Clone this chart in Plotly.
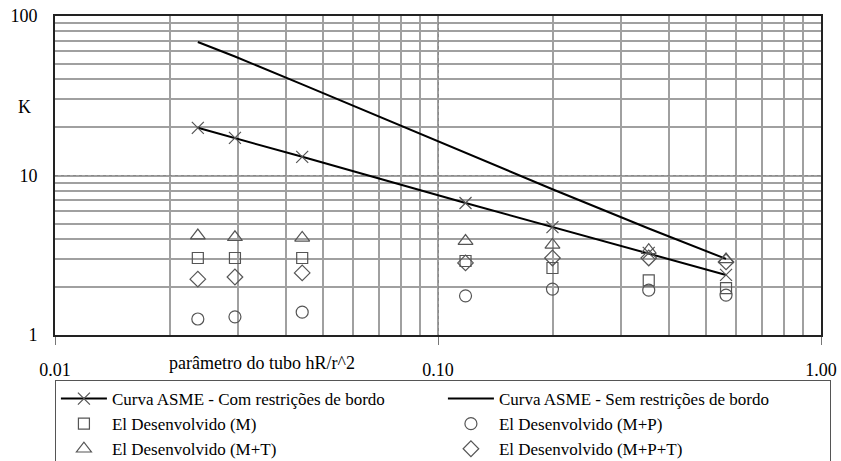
import plotly.graph_objects as go

# Data
hR_r2 = [0.0236, 0.0295, 0.0442, 0.118, 0.199, 0.355, 0.565]

asme_com = [19.9, 17.2, 13.1, 6.72, 4.75, 3.27, 2.38]
asme_sem = [68.7, 55.7, 37.3, 13.8, 8.2, 4.65, 3.0]
ef_M = [3.04, 3.04, 3.04, 2.91, 2.63, 2.2, 1.97]
ef_MP = [1.26, 1.30, 1.39, 1.76, 1.94, 1.91, 1.78]
ef_MT = [4.2, 4.1, 4.06, 3.88, 3.67, 3.4, 2.98]
ef_MPT = [2.24, 2.31, 2.45, 2.83, 3.04, 3.04, 2.87]

x_tickvals = [0.01, 0.1, 1]
x_ticktext = ["0.01", "0.10", "1.00"]
y_tickvals = [1, 10, 100]
y_ticktext = ["1", "10", "100"]

FONT = "Liberation Serif"
FS = 18
LFS = 17
MK = "#555555"

fig = go.Figure()
fig.add_trace(go.Scatter(
    x=hR_r2, y=asme_com, mode="lines+markers",
    name="Curva ASME - Com restrições de bordo",
    line=dict(color="black", width=2),
    marker=dict(symbol="x-thin-open", size=12, color=MK, line=dict(color=MK, width=1.2)),
))
fig.add_trace(go.Scatter(
    x=hR_r2, y=asme_sem, mode="lines",
    name="Curva ASME - Sem restrições de bordo",
    line=dict(color="black", width=2),
))
fig.add_trace(go.Scatter(
    x=hR_r2, y=ef_M, mode="markers", name="El Desenvolvido (M)",
    marker=dict(symbol="square-open", size=11, color=MK, line=dict(color=MK, width=1.2)),
))
fig.add_trace(go.Scatter(
    x=hR_r2, y=ef_MP, mode="markers", name="El Desenvolvido (M+P)",
    marker=dict(symbol="circle-open", size=12, color=MK, line=dict(color=MK, width=1.2)),
))
fig.add_trace(go.Scatter(
    x=hR_r2, y=ef_MT, mode="markers", name="El Desenvolvido (M+T)",
    marker=dict(symbol="triangle-up-open", size=13, color=MK, line=dict(color=MK, width=1.2)),
))
fig.add_trace(go.Scatter(
    x=hR_r2, y=ef_MPT, mode="markers", name="El Desenvolvido (M+P+T)",
    marker=dict(symbol="diamond-open", size=12, color=MK, line=dict(color=MK, width=1.2)),
))

fig.update_xaxes(
    type="log", range=[-2, 0],
    tickvals=x_tickvals, ticktext=x_ticktext,
    showgrid=True, gridcolor="#888888", griddash="dot", gridwidth=1,
    minor=dict(dtick="D1", showgrid=True, gridcolor="#a0a0a0", gridwidth=1.5,
               griddash="solid", ticks=""),
    ticks="outside", ticklen=8, tickcolor="#777777", tickwidth=1,
    ticklabelstandoff=9, ticklabeloverflow="allow",
    showline=True, linecolor="#222222", linewidth=2, mirror=True,
    zeroline=False,
    tickfont=dict(family=FONT, size=FS, color="black"),
)
fig.update_yaxes(
    type="log", range=[0, 2],
    tickvals=y_tickvals, ticktext=y_ticktext,
    showgrid=True, gridcolor="#888888", griddash="dot", gridwidth=1,
    minor=dict(dtick="D1", showgrid=True, gridcolor="#a0a0a0", gridwidth=1.5,
               griddash="solid", ticks=""),
    ticks="", ticklabelstandoff=12, ticklabeloverflow="allow",
    showline=True, linecolor="#222222", linewidth=2, mirror=True,
    zeroline=False,
    tickfont=dict(family=FONT, size=FS, color="black"),
)

fig.add_annotation(text="K", xref="paper", yref="paper",
                   x=(24 - 55) / 766, y=(335 - 107) / 319,
                   showarrow=False, xanchor="center", yanchor="middle",
                   font=dict(family=FONT, size=FS, color="black"))
fig.add_annotation(text="parâmetro do tubo hR/r^2", xref="paper", yref="paper",
                   x=(262 - 55) / 766, y=(335 - 363) / 319,
                   showarrow=False, xanchor="center", yanchor="middle",
                   font=dict(family=FONT, size=FS, color="black"))

fig.update_layout(
    width=841, height=461,
    margin=dict(l=55, r=20, t=16, b=126, autoexpand=False),
    plot_bgcolor="white", paper_bgcolor="white",
    font=dict(family=FONT, size=FS, color="black"),
    showlegend=True,
    legend=dict(
        orientation="h", x=-0.0001, xanchor="left",
        y=(335 - 380) / 319, yanchor="top",
        bordercolor="#555555", borderwidth=1,
        entrywidth=326, entrywidthmode="pixels",
        font=dict(family=FONT, size=LFS, color="black"),
        itemwidth=46, tracegroupgap=0,
    ),
)

fig.write_html("out.html", config={"displayModeBar": False},
               post_script="document.body.style.margin='0px';")
